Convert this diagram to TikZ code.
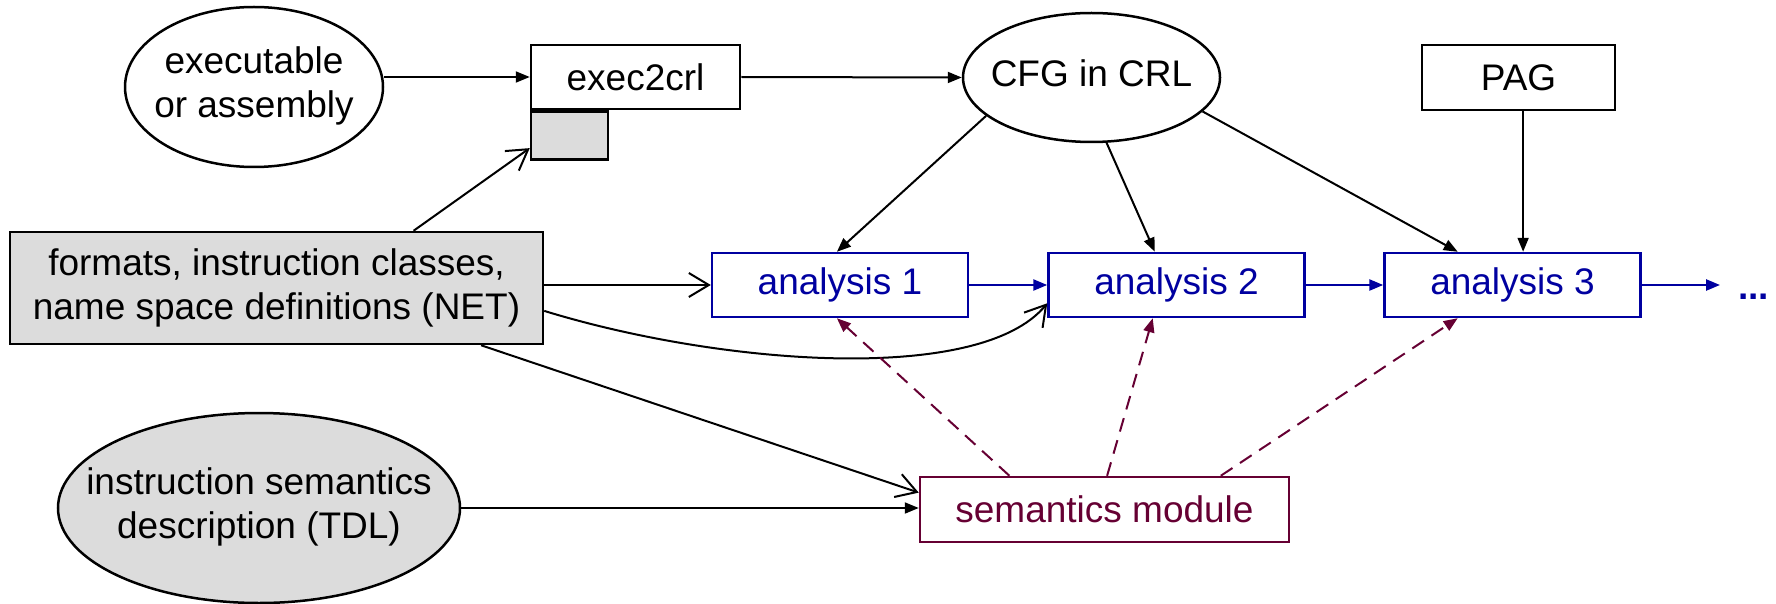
\documentclass[tikz,border=0pt]{standalone}
\usepackage{fontspec}
\setmainfont{Liberation Sans}
\usetikzlibrary{arrows.meta,shapes.geometric,calc}
\definecolor{netgrey}{HTML}{DCDCDC}
\definecolor{anablue}{HTML}{0000A0}
\definecolor{semred}{HTML}{660033}
% centred lines whose width does not enlarge the surrounding ellipse
\newcommand{\flatlines}[1]{\makebox[0pt]{\begin{tabular}{@{}c@{}}#1\end{tabular}}}
\begin{document}
\begin{tikzpicture}[x=1pt,y=-1pt,
  every node/.style={font=\fontsize{37}{44}\selectfont, inner sep=0pt, line width=2.5pt},
  blackbox/.style={draw, rectangle},
  oval/.style={draw, ellipse},
  ana/.style={draw=anablue, text=anablue, rectangle, minimum width=256pt, minimum height=64pt},
  farrow/.style={line width=2pt, -{Triangle[length=14pt,width=11pt]}},
  oarrow/.style={line width=2pt, -{Straight Barb[length=20pt,width=24pt,line width=2pt]}},
  barrow/.style={line width=2.5pt, anablue, -{Triangle[length=14pt,width=11pt]}},
  sarrow/.style={line width=2pt, semred, dash pattern=on 14pt off 9pt, -{Triangle[length=14pt,width=11pt]}}]
\useasboundingbox (0,0) rectangle (1776,604);

% inputs and front end
\node[oval, minimum width=258pt, minimum height=160pt] (exe) at (254,87) {\flatlines{executable\\or assembly}};
\node[blackbox, minimum width=209pt, minimum height=64pt] (e2c) at (635.5,77) {exec2crl};
\node[blackbox, fill=netgrey, minimum width=77pt, minimum height=48pt, anchor=north west] (opt) at (e2c.south west) {};
\node[oval, minimum width=257pt, minimum height=129pt] (cfg) at (1091.5,77.5) {\flatlines{CFG in CRL}};
\node[blackbox, minimum width=193pt, minimum height=65pt] (pag) at (1518.5,77.5) {PAG};
\node[blackbox, fill=netgrey, minimum width=533pt, minimum height=112pt, align=center] (net) at (276.5,288) {formats, instruction classes,\\name space definitions (NET)};

% analysis chain
\node[ana] (a1) at (840,285) {analysis 1};
\node[ana] (a2) at (1176.5,285) {analysis 2};
\node[ana] (a3) at (1512.5,285) {analysis 3};
\node[text=anablue, font=\fontsize{37}{44}\selectfont\bfseries, anchor=base west] (more) at (1737,299) {...};

% semantics
\node[oval, fill=netgrey, minimum width=402pt, minimum height=190pt] (tdl) at (259,508) {\flatlines{instruction semantics\\description (TDL)}};
\node[draw=semred, text=semred, minimum width=369pt, minimum height=65pt] (sem) at (1104.5,509.5) {semantics module};

% connectors
\draw[farrow] (exe.east |- e2c.west) -- (e2c.west);
\draw[farrow] (e2c.east) -- (cfg.west);
\draw[oarrow] ($(net.north west)!0.756!(net.north east)$) -- ($(opt.west)!0.5!(opt.south west)$);
\draw[farrow] (cfg.200.7) -- ($(a1.north west)!0.488!(a1.north east)$);
\draw[farrow] (cfg.283.5) -- ($(a2.north west)!0.416!(a2.north east)$);
\draw[farrow] (cfg.343.7) -- ($(a3.north west)!0.288!(a3.north east)$);
\coordinate (pagin) at ($(a3.north west)!0.541!(a3.north east)$);
\draw[farrow] (pag.south -| pagin) -- (pagin);
\draw[oarrow] (net.east |- a1.west) -- (a1.west);
\draw[oarrow] ($(net.east)!0.4!(net.south east)$) .. controls (720,365) and (980,385) .. ($(a2.west)!0.55!(a2.south west)$);
\draw[oarrow] ($(net.south west)!0.882!(net.south east)$) -- ($(sem.west)!0.5!(sem.north west)$);
\draw[farrow] (tdl.east) -- (tdl.east -| sem.west);
\draw[barrow] (a1.east) -- (a2.west);
\draw[barrow] (a2.east) -- (a3.west);
\draw[barrow] (a3.east) -- ($(a3.east -| more.west)+(-17,0)$);
\draw[sarrow] ($(sem.north west)!0.244!(sem.north east)$) -- ($(a1.south west)!0.488!(a1.south east)$);
\draw[sarrow] ($(sem.north west)!0.507!(sem.north east)$) -- ($(a2.south west)!0.408!(a2.south east)$);
\draw[sarrow] ($(sem.north west)!0.813!(sem.north east)$) -- ($(a3.south west)!0.288!(a3.south east)$);
\end{tikzpicture}
\end{document}
